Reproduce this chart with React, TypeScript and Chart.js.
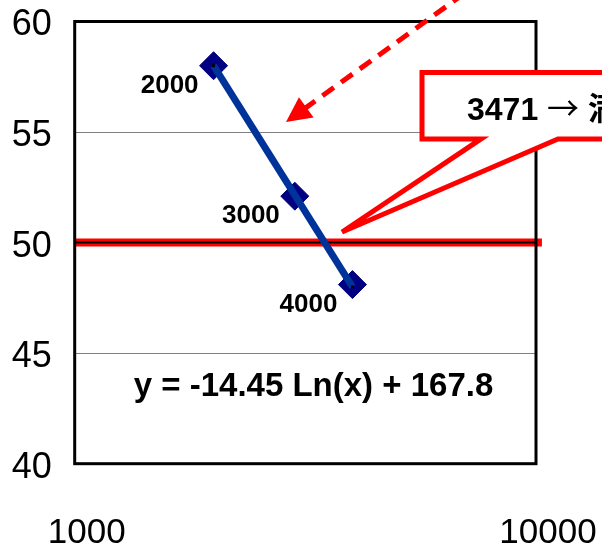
import React, { useEffect, useRef } from 'react';
import { Chart, registerables } from 'chart.js';

Chart.register(...registerables);

// ---- data ----
const pointLabels = ['2000', '3000', '4000'];
const xValues = [2000, 3000, 4000];
const yValues = [58.0, 52.1, 48.1];
const trendX = [2000, 4000];
const trendY = [58.0, 48.0];
const xTickValues = [1000, 10000];
const yTickValues = [40, 45, 50, 55, 60];
const targetY = 50;
const equationText = 'y = -14.45 Ln(x) + 167.8';
const calloutParts = ['3471', ' ', '\u2192', ' ', '満たす'];

// annotation geometry (in data space)
const targetLineX = [1000, 10300];
const calloutBoxX = [5661, 16000];
const calloutBoxY = [57.69, 54.69];
const calloutTailX = [11160, 3798, 7600];
const calloutTailY = [54.69, 50.48, 54.69];
const calloutTextAt = { x: 7086, y: 55.545 };
const equationAt = { x: 3294, y: 43.04 };
const arrowFrom = { x: 7677, y: 61.88 };
const arrowTo = { x: 2871, y: 55.45 };

const FONT = '"Liberation Sans", Arial, Helvetica, sans-serif';
const CJK = '"Noto Sans CJK JP"';

const annotations = {
  id: 'annotations',
  beforeDatasetsDraw(chart: any) {
    const { ctx, chartArea, scales } = chart;
    const sx = scales.x, sy = scales.y;
    const yPix = sy.getPixelForValue(targetY);
    ctx.save();
    // red target line
    ctx.strokeStyle = '#ff0000';
    ctx.lineWidth = 8;
    ctx.beginPath();
    ctx.moveTo(sx.getPixelForValue(targetLineX[0]), yPix);
    ctx.lineTo(sx.getPixelForValue(targetLineX[1]), yPix);
    ctx.stroke();
    // thin black core
    ctx.strokeStyle = '#000000';
    ctx.lineWidth = 2;
    ctx.beginPath();
    ctx.moveTo(chartArea.left, yPix);
    ctx.lineTo(chartArea.right, yPix);
    ctx.stroke();
    // plot border
    ctx.lineWidth = 3;
    ctx.strokeRect(chartArea.left, chartArea.top, chartArea.right - chartArea.left, chartArea.bottom - chartArea.top);
    ctx.restore();
  },
  afterDatasetsDraw(chart: any) {
    const { ctx, scales } = chart;
    const sx = scales.x, sy = scales.y;
    const X = (v: number) => sx.getPixelForValue(v);
    const Y = (v: number) => sy.getPixelForValue(v);
    ctx.save();
    // point labels
    ctx.fillStyle = '#000';
    ctx.font = `bold 26px ${FONT}`;
    ctx.textAlign = 'right';
    ctx.textBaseline = 'alphabetic';
    pointLabels.forEach((t, i) => {
      ctx.fillText(t, X(xValues[i]) - 15, Y(yValues[i]) + 27);
    });
    // equation
    ctx.font = `bold 33px ${FONT}`;
    ctx.textAlign = 'center';
    ctx.fillText(equationText, X(equationAt.x), Y(equationAt.y));

    // callout
    const bx1 = X(calloutBoxX[0]), bx2 = X(calloutBoxX[1]);
    const by1 = Y(calloutBoxY[0]), by2 = Y(calloutBoxY[1]);
    ctx.beginPath();
    ctx.moveTo(bx1, by1);
    ctx.lineTo(bx2, by1);
    ctx.lineTo(bx2, by2);
    for (let i = 0; i < calloutTailX.length; i++) {
      ctx.lineTo(X(calloutTailX[i]), Y(calloutTailY[i]));
    }
    ctx.lineTo(bx1, by2);
    ctx.closePath();
    ctx.fillStyle = '#ffffff';
    ctx.fill();
    ctx.strokeStyle = '#ff0000';
    ctx.lineWidth = 5;
    ctx.lineJoin = 'miter';
    ctx.stroke();

    ctx.fillStyle = '#000';
    ctx.textAlign = 'left';
    let cx = X(calloutTextAt.x);
    const cy = Y(calloutTextAt.y);
    const fonts = [
      `bold 32px ${FONT}`,
      `32px ${FONT}`,
      `32px ${CJK}, ${FONT}`,
      `32px ${FONT}`,
      `bold 32px ${CJK}, ${FONT}`,
    ];
    calloutParts.forEach((p, i) => {
      ctx.font = fonts[i];
      ctx.fillText(p, cx, cy);
      cx += ctx.measureText(p).width;
    });

    // dashed arrow
    const x0 = X(arrowFrom.x), y0 = Y(arrowFrom.y);
    const x1 = X(arrowTo.x), y1 = Y(arrowTo.y);
    const dx = x1 - x0, dy = y1 - y0;
    const len = Math.hypot(dx, dy);
    const ux = dx / len, uy = dy / len;
    const headLen = 25, headHalf = 12.5;
    const baseX = x1 - ux * headLen, baseY = y1 - uy * headLen;
    ctx.strokeStyle = '#ff0000';
    ctx.lineWidth = 5;
    ctx.setLineDash([14, 9]);
    ctx.beginPath();
    ctx.moveTo(x0, y0);
    ctx.lineTo(baseX + ux * 2, baseY + uy * 2);
    ctx.stroke();
    ctx.setLineDash([]);
    ctx.fillStyle = '#ff0000';
    ctx.beginPath();
    ctx.moveTo(x1, y1);
    ctx.lineTo(baseX - uy * headHalf, baseY + ux * headHalf);
    ctx.lineTo(baseX + uy * headHalf, baseY - ux * headHalf);
    ctx.closePath();
    ctx.fill();
    ctx.restore();
  },
};

export default function App() {
  const ref = useRef<HTMLCanvasElement | null>(null);
  useEffect(() => {
    if (!ref.current) return;
    const chart = new Chart(ref.current, {
      type: 'scatter',
      data: {
        datasets: [
          {
            data: trendX.map((x, i) => ({ x, y: trendY[i] })),
            showLine: true,
            borderColor: '#003399',
            borderWidth: 7,
            pointRadius: 2,
            pointStyle: 'rect',
            pointBackgroundColor: '#000000',
            pointBorderWidth: 0,
            order: 0,
          } as any,
          {
            data: xValues.map((x, i) => ({ x, y: yValues[i] })),
            showLine: false,
            pointStyle: 'rectRot',
            pointRadius: 14,
            backgroundColor: '#000080',
            borderColor: '#000080',
            borderWidth: 1,
            order: 1,
          } as any,
        ],
      },
      options: {
        animation: false,
        responsive: true,
        maintainAspectRatio: false,
        events: [],
        layout: { padding: { top: 21.5, right: 66, left: 0, bottom: 0 } },
        plugins: { legend: { display: false }, tooltip: { enabled: false } },
        scales: {
          x: {
            type: 'logarithmic',
            min: 1000,
            max: 10000,
            grid: { display: false, drawTicks: false },
            border: { display: false },
            afterBuildTicks: (s: any) => {
              s.ticks = xTickValues.map((v) => ({ value: v }));
            },
            afterFit: (s: any) => {
              s.height = 84.3;
              s.paddingLeft = 0;
              s.paddingRight = 0;
            },
            ticks: {
              autoSkip: false,
              maxRotation: 0,
              minRotation: 0,
              padding: 49,
              labelOffset: 12,
              color: '#000000',
              font: { family: FONT, size: 35 },
              callback: (v: any) => String(v),
            },
          },
          y: {
            min: 40,
            max: 60,
            grid: { color: '#808080', lineWidth: 1, drawTicks: false },
            border: { display: false },
            afterBuildTicks: (s: any) => {
              s.ticks = yTickValues.map((v) => ({ value: v }));
            },
            afterFit: (s: any) => {
              s.width = 74.7;
              s.paddingTop = 0;
              s.paddingBottom = 0;
            },
            ticks: {
              padding: 23,
              labelOffset: 4,
              color: '#000000',
              font: { family: FONT, size: 36 },
              callback: (v: any) => String(v),
            },
          },
        },
      } as any,
      plugins: [annotations],
    });
    return () => chart.destroy();
  }, []);
  return (
    <div style={{ position: 'fixed', left: 0, top: 0, width: 602, height: 548, background: '#ffffff' }}>
      <canvas ref={ref} />
    </div>
  );
}
